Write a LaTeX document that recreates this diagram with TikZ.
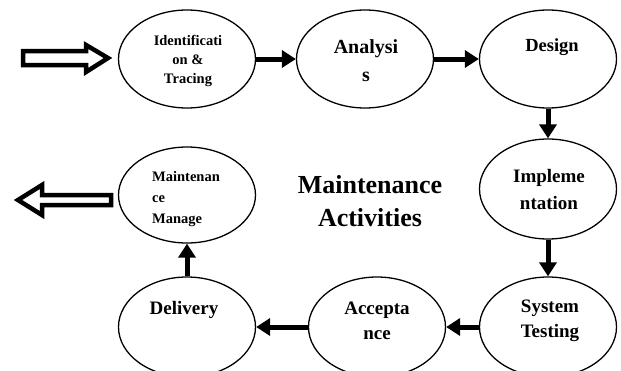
\documentclass[tikz,border=0pt]{standalone}
\usepackage{fontspec}
\setmainfont{Liberation Serif}
\usetikzlibrary{shapes.geometric,arrows.meta}

\tikzset{
  stage/.style={draw, ellipse, line width=1.3pt, inner sep=0pt,
    minimum width=137pt, minimum height=98pt},
  flow/.style={-{Triangle[length=14pt,width=17pt]}, line width=5pt},
  blockarrow/.style={line width=4.5pt, line join=miter, fill=white},
  lbl/.style={align=center, inner sep=0pt, font=\bfseries}
}

\begin{document}
\begin{tikzpicture}[x=1pt,y=-1pt]
		\useasboundingbox[fill=white] (0,0) rectangle (621,370);

		% stages of the cycle
		\node[stage] at (187,59) (ident) {};
		\node[stage] at (365,59) (anal) {};
		\node[stage] at (548,59) (design) {};
		\node[stage, minimum height=100pt] at (548,189) (impl) {};
		\node[stage, minimum height=100pt] at (548,327) (systest) {};
		\node[stage, minimum height=100pt] at (377,327) (accept) {};
		\node[stage, minimum height=100pt] at (187,327) (deliv) {};
		\node[stage, minimum height=96pt] at (187,195) (mmanage) {};

		% texts, broken as in the slide
		\node[lbl, font=\bfseries\fontsize{14.5}{19}\selectfont] at (188,61) (ident-t) {Identificati\\on \&\\Tracing};
		\node[lbl, font=\bfseries\fontsize{20}{28}\selectfont] at (366,61) (anal-t) {Analysi\\s};
		\node[lbl, font=\bfseries\fontsize{18.5}{25}\selectfont] at (552,47) (design-t) {Design};
		\node[lbl, font=\bfseries\fontsize{19}{27}\selectfont] at (549,189) (impl-t) {Impleme\\ntation};
		\node[lbl, font=\bfseries\fontsize{19}{25}\selectfont] at (550,321) (systest-t) {System\\Testing};
		\node[lbl, font=\bfseries\fontsize{19}{25}\selectfont] at (377,321) (accept-t) {Accepta\\nce};
		\node[lbl, font=\bfseries\fontsize{19}{25}\selectfont] at (184,310) (deliv-t) {Delivery};
		\node[lbl, align=left, anchor=west, font=\bfseries\fontsize{14.5}{21}\selectfont] at (152,199) (mmanage-t) {Maintenan\\ce\\Manage};

		\node[lbl, font=\bfseries\fontsize{26}{33}\selectfont] at (370,201) (title) {Maintenance\\Activities};

		% cycle arrows
		\draw[flow] (ident) -- (anal);
		\draw[flow] (anal) -- (design);
		\draw[flow] (design) -- (impl);
		\draw[flow] (impl) -- (systest);
		\draw[flow] (systest) -- (accept);
		\draw[flow] (accept) -- (deliv);
		\draw[flow] (deliv) -- (mmanage);

		% hollow arrows in and out
		\draw[blockarrow] (23,51) -- (86,51) -- (86,45) -- (108,58) -- (86,72) -- (86,65) -- (23,65) -- cycle;
		\draw[blockarrow] (111,195) -- (42,195) -- (42,185) -- (18,200) -- (42,215) -- (42,205) -- (111,205) -- cycle;

	\end{tikzpicture}
\end{document}
